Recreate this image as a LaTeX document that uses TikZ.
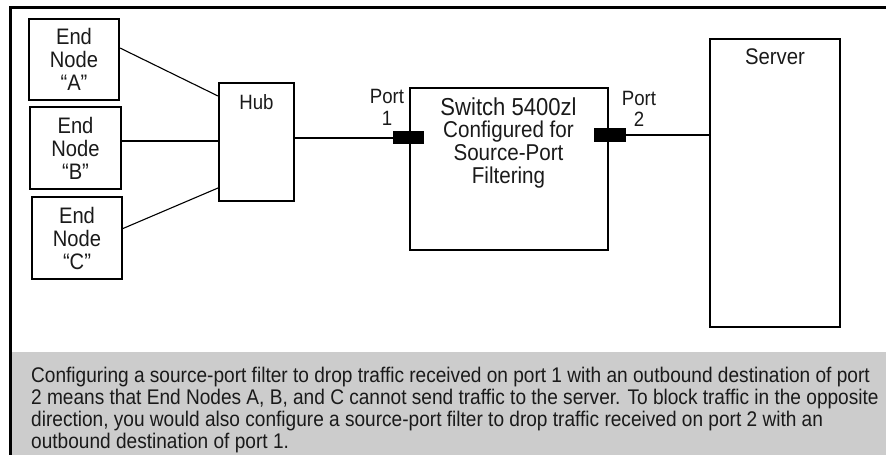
\documentclass[tikz,border=0pt]{standalone}
\usepackage{fontspec}
\setmainfont{Liberation Sans}[FakeStretch=0.9]
\definecolor{capgray}{HTML}{CCCCCC}
\definecolor{ink}{HTML}{1A1A1A}
\tikzset{
  box/.style={draw=black, line width=2pt, inner sep=0pt, align=center, text=ink},
  lbl/.style={inner sep=0pt, align=center, text=ink, font=\fontsize{20.7}{23}\selectfont},
  portblk/.style={fill=black, draw=none, inner sep=0pt},
  wire/.style={line width=2pt},
  thinwire/.style={line width=1.1pt},
}
\begin{document}
\begin{tikzpicture}[x=1pt,y=-1pt]
\useasboundingbox (0,0) rectangle (886,455);
% caption background
\fill[capgray] (11.5,352) rectangle (886,455);
% frame
\draw[line width=3pt] (886,7) -- (10,7) -- (10,455);

% end nodes
\node[box, minimum width=90pt, minimum height=81pt, font=\fontsize{22.4}{23}\selectfont] (a) at (74,59.5) {End\\Node\\“A”};
\node[box, minimum width=91pt, minimum height=82pt, font=\fontsize{22.4}{23}\selectfont] (b) at (75.5,148) {End\\Node\\“B”};
\node[box, minimum width=90pt, minimum height=82pt, font=\fontsize{22.4}{23}\selectfont] (c) at (77,238) {End\\Node\\“C”};

% hub
\node[box, minimum width=75pt, minimum height=118pt] (hub) at (256.5,142) {};
\node[lbl] (hubl) at (256.5,102) {Hub};

% switch
\node[box, minimum width=198pt, minimum height=162pt] (sw) at (509,169) {};
\node[lbl, font=\fontsize{24.5}{23}\selectfont] (swt) at (508.5,107) {Switch 5400zl};
\node[lbl, font=\fontsize{22.9}{23}\selectfont] (swb) at (508.5,155) {Configured for\\Source-Port\\Filtering};

% ports
\node[portblk, minimum width=31pt, minimum height=13pt] (p1) at (408.5,137.5) {};
\node[portblk, minimum width=32pt, minimum height=14pt] (p2) at (610,135) {};
\node[lbl, font=\fontsize{20.7}{21.5}\selectfont] (p1l) at (387,107.5) {Port\\1};
\node[lbl, font=\fontsize{20.7}{21.5}\selectfont] (p2l) at (639,109) {Port\\2};

% server
\node[box, minimum width=130pt, minimum height=288pt] (srv) at (775,183) {};
\node[lbl, font=\fontsize{22.6}{23}\selectfont] (srvl) at (775,57) {Server};

% connectors
\draw[thinwire] ([yshift=11.5pt]a.east) -- ([yshift=46pt]hub.west);
\draw[wire] ([yshift=7pt]b.east) -- ([yshift=1pt]hub.west);
\draw[thinwire] ([yshift=9.5pt]c.east) -- ([yshift=-46pt]hub.west);
\draw[wire] (hub.east |- p1.west) -- (p1.west);
\draw[wire] (p2.east) -- (srv.west |- p2.east);

% caption
\node[anchor=base west, align=left, inner sep=0pt, text=ink, font=\fontsize{21.2}{22}\selectfont] (cap) at (31,448)
{Configuring a source-port filter to drop traffic received on port 1 with an outbound destination of port\\
2 means that End Nodes A, B, and C cannot send traffic to the server. To block traffic in the opposite\\
direction, you would also configure a source-port filter to drop traffic received on port 2 with an\\
outbound destination of port 1.};
\end{tikzpicture}
\end{document}
